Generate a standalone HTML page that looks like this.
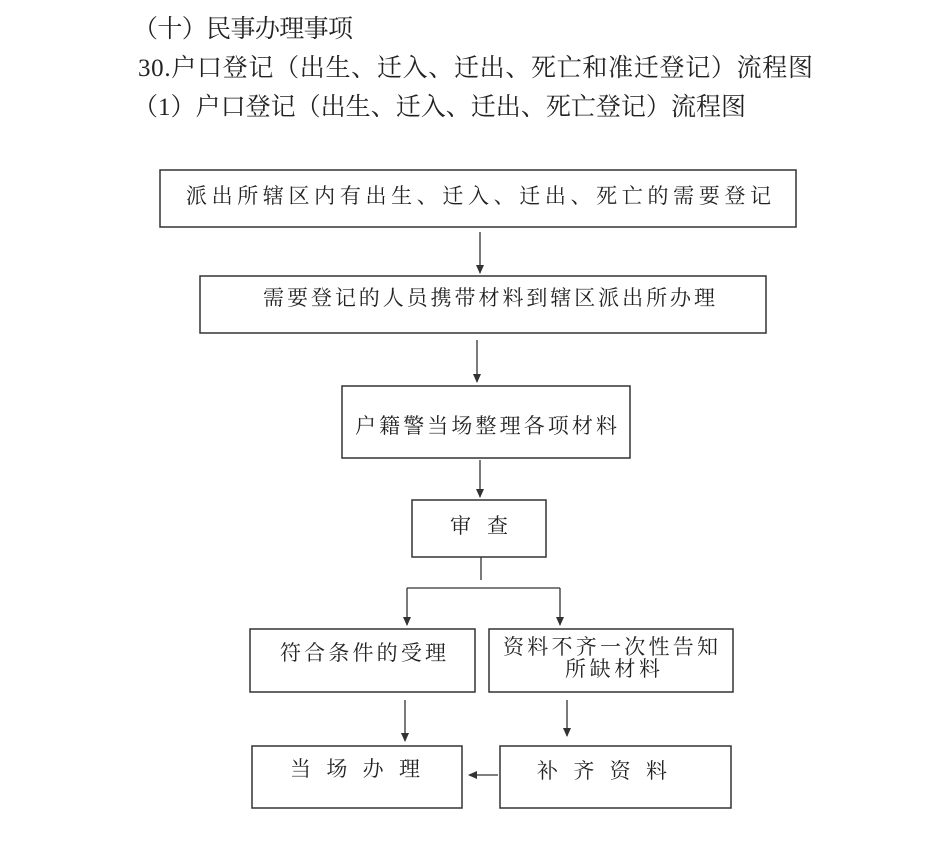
<!DOCTYPE html>
<html><head><meta charset="utf-8"><style>
html,body{margin:0;padding:0;background:#fff;}
svg{display:block;}
text{font-family:"Liberation Serif","Noto Serif CJK SC","Noto Sans CJK SC",serif;fill:#222;}
</style></head><body>
<svg width="950" height="855" viewBox="0 0 950 855" xmlns="http://www.w3.org/2000/svg">
<defs><marker id="a" markerWidth="10" markerHeight="10" refX="8" refY="5" orient="auto" markerUnits="userSpaceOnUse"><path d="M0,1 L9,5 L0,9 Z" fill="#333"/></marker></defs>
<g font-size="25">
<text x="133" y="37" textLength="220" lengthAdjust="spacing">（十）民事办理事项</text>
<text x="138" y="76" textLength="675" lengthAdjust="spacing">30.户口登记（出生、迁入、迁出、死亡和准迁登记）流程图</text>
<text x="133" y="115" textLength="613" lengthAdjust="spacing">（1）户口登记（出生、迁入、迁出、死亡登记）流程图</text>
</g>
<g fill="none" stroke="#333" stroke-width="1.5">
<rect x="160" y="170" width="636" height="57"/>
<rect x="200" y="276" width="566" height="57"/>
<rect x="342" y="386" width="288" height="72"/>
<rect x="412" y="500" width="134" height="57"/>
<rect x="250" y="629" width="225" height="63"/>
<rect x="489" y="629" width="244" height="63"/>
<rect x="252" y="746" width="210" height="62"/>
<rect x="500" y="746" width="231" height="62"/>
</g>
<g stroke="#333" stroke-width="1.3" fill="none">
<line x1="480" y1="232" x2="480" y2="273" marker-end="url(#a)"/>
<line x1="477" y1="340" x2="477" y2="382" marker-end="url(#a)"/>
<line x1="480" y1="460" x2="480" y2="497" marker-end="url(#a)"/>
<line x1="481" y1="557" x2="481" y2="580"/>
<polyline points="407,624 407,588 560,588 560,624" stroke="none"/>
<line x1="407" y1="588" x2="560" y2="588"/>
<line x1="407" y1="588" x2="407" y2="625" marker-end="url(#a)"/>
<line x1="560" y1="588" x2="560" y2="625" marker-end="url(#a)"/>
<line x1="405" y1="700" x2="405" y2="741" marker-end="url(#a)"/>
<line x1="567" y1="700" x2="567" y2="736" marker-end="url(#a)"/>
<line x1="498" y1="775" x2="469" y2="775" marker-end="url(#a)"/>
</g>
<g font-size="21">
<text x="186" y="203" textLength="585" lengthAdjust="spacing">派出所辖区内有出生、迁入、迁出、死亡的需要登记</text>
<text x="263" y="305" textLength="452" lengthAdjust="spacing">需要登记的人员携带材料到辖区派出所办理</text>
<text x="355" y="433" textLength="262" lengthAdjust="spacing">户籍警当场整理各项材料</text>
<text x="450" y="533" textLength="58" lengthAdjust="spacing">审 查</text>
<text x="280" y="660" textLength="166" lengthAdjust="spacing">符合条件的受理</text>
<text x="503" y="654" textLength="215" lengthAdjust="spacing">资料不齐一次性告知</text>
<text x="565" y="676" textLength="95" lengthAdjust="spacing">所缺材料</text>
<text x="290" y="776" textLength="130" lengthAdjust="spacing">当 场 办 理</text>
<text x="537" y="778" textLength="130" lengthAdjust="spacing">补 齐 资 料</text>
</g>
</svg>
</body></html>
